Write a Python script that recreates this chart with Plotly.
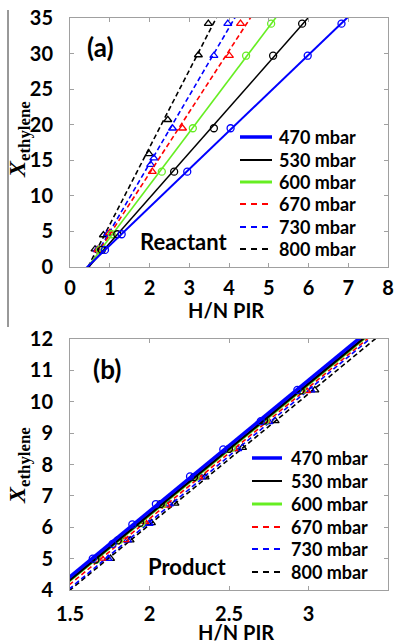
import numpy as np
import plotly.graph_objects as go

pressures = ["470 mbar", "530 mbar", "600 mbar", "670 mbar", "730 mbar", "800 mbar"]
x_title = "H/N PIR"

# Panel (a): reactant
a_x_470 = [0.88, 1.30, 2.95, 4.04, 5.98, 6.83]
a_y_470 = [2.4, 4.6, 13.4, 19.5, 29.7, 34.2]
a_x_530 = [0.80, 1.19, 2.62, 3.62, 5.11, 5.84]
a_y_530 = [2.4, 4.6, 13.4, 19.5, 29.7, 34.2]
a_x_600 = [0.75, 1.05, 2.31, 3.09, 4.43, 5.06]
a_y_600 = [2.4, 4.6, 13.4, 19.5, 29.7, 34.2]
a_x_670 = [0.70, 1.00, 2.07, 2.83, 4.01, 4.29]
a_y_670 = [2.4, 4.8, 13.4, 19.5, 29.7, 34.2]
a_x_730 = [0.68, 0.95, 2.03, 2.11, 2.58, 3.62, 3.97]
a_y_730 = [2.4, 4.7, 14.4, 15.3, 19.5, 29.7, 34.2]
a_x_800 = [0.63, 0.84, 1.99, 2.46, 3.23, 3.48]
a_y_800 = [2.5, 4.5, 15.9, 20.7, 29.8, 34.2]

# Panel (b): product
b_x_470 = [1.643, 1.768, 1.892, 2.040, 2.255, 2.464, 2.700, 2.930]
b_y_470 = [5.00, 5.47, 6.09, 6.74, 7.62, 8.48, 9.38, 10.38]
b_x_530 = [1.660, 1.800, 1.940, 2.070, 2.280, 2.500, 2.720, 2.950]
b_y_530 = [4.97, 5.58, 6.14, 6.74, 7.60, 8.50, 9.40, 10.36]
b_x_600 = [1.664, 1.810, 1.950, 2.083, 2.290, 2.517, 2.730, 2.960]
b_y_600 = [4.96, 5.59, 6.13, 6.74, 7.60, 8.53, 9.40, 10.37]
b_x_670 = [1.700, 1.846, 1.970, 2.108, 2.310, 2.530, 2.733, 2.988]
b_y_670 = [5.01, 5.60, 6.18, 6.70, 7.60, 8.50, 9.39, 10.35]
b_x_730 = [1.740, 1.862, 1.998, 2.125, 2.325, 2.555, 2.750, 3.015]
b_y_730 = [5.00, 5.59, 6.12, 6.74, 7.60, 8.50, 9.36, 10.37]
b_x_800 = [1.755, 1.878, 2.012, 2.160, 2.350, 2.585, 2.790, 3.040]
b_y_800 = [5.00, 5.59, 6.14, 6.76, 7.60, 8.54, 9.39, 10.37]

a_x = [a_x_470, a_x_530, a_x_600, a_x_670, a_x_730, a_x_800]
a_y = [a_y_470, a_y_530, a_y_600, a_y_670, a_y_730, a_y_800]
b_x = [b_x_470, b_x_530, b_x_600, b_x_670, b_x_730, b_x_800]
b_y = [b_y_470, b_y_530, b_y_600, b_y_670, b_y_730, b_y_800]

# Series styling
colors = ["#0000FF", "#000000", "#66EE22", "#FF0000", "#0000FF", "#000000"]
dashes = ["solid", "solid", "solid", "5px,3px", "5px,3px", "5px,3px"]
symbols = ["circle-open"] * 3 + ["triangle-up-open"] * 3
width_a = [2, 1.5, 1.6, 1.6, 1.6, 1.6]
width_b = [3.5, 2.5, 2, 1.6, 1.6, 1.6]
legend_width = [3.5, 2, 3, 2.2, 2.2, 2.2]
legend_dash = ["solid", "solid", "solid", "6px,5px", "6px,5px", "6px,5px"]

W, H = 401, 644
ML, MR, MT, MB = 70, 13, 18, 54
PW, PH = W - ML - MR, H - MT - MB


def px(xp):
    return (xp - ML) / PW


def py(yp):
    return (H - MB - yp) / PH


fig = go.Figure()

for i in reversed(range(6)):
    # (a) least-squares line through each pressure series
    m, c = np.polyfit(a_x[i], a_y[i], 1)
    yy = np.array([-2.0, 37.0])
    fig.add_trace(go.Scatter(
        x=(yy - c) / m, y=yy, mode="lines", xaxis="x", yaxis="y",
        line=dict(color=colors[i], width=width_a[i], dash=dashes[i]),
        showlegend=False, hoverinfo="skip"))
    fig.add_trace(go.Scatter(
        x=a_x[i], y=a_y[i], mode="markers", xaxis="x", yaxis="y",
        marker=dict(symbol=symbols[i], size=7, color=colors[i],
                    line=dict(width=1.3, color=colors[i])),
        showlegend=False, name=pressures[i]))

    # (b)
    m, c = np.polyfit(b_x[i], b_y[i], 1)
    xx = np.array([1.3, 3.7])
    fig.add_trace(go.Scatter(
        x=xx, y=m * xx + c, mode="lines", xaxis="x2", yaxis="y2",
        line=dict(color=colors[i], width=width_b[i], dash=dashes[i]),
        showlegend=False, hoverinfo="skip"))
    fig.add_trace(go.Scatter(
        x=b_x[i], y=b_y[i], mode="markers", xaxis="x2", yaxis="y2",
        marker=dict(symbol=symbols[i], size=7, color=colors[i],
                    line=dict(width=1.3, color=colors[i])),
        showlegend=False, name=pressures[i]))

bold = dict(family="Lato", color="black", weight="bold")
axis_common = dict(
    showline=True, linecolor="#a0a0a0", linewidth=1, mirror="ticks",
    ticks="inside", ticklen=4, tickcolor="#a0a0a0", tickwidth=1,
    showgrid=False, zeroline=False, automargin=False,
    tickfont=dict(size=20, **bold),
)

top_a, bot_a = 18, 267
top_b, bot_b = 339, 590

fig.update_layout(
    width=W, height=H,
    margin=dict(l=ML, r=MR, t=MT, b=MB),
    paper_bgcolor="white", plot_bgcolor="white",
    showlegend=False,
    xaxis=dict(domain=[0, 1], anchor="y", range=[0, 8], dtick=1,
               ticklabelstandoff=3, **axis_common),
    yaxis=dict(domain=[py(bot_a), py(top_a)], anchor="x", range=[0, 35], dtick=5,
               ticklabelstandoff=12, **axis_common),
    xaxis2=dict(domain=[0, 1], anchor="y2", range=[1.5, 3.5], dtick=0.5,
                ticklabelstandoff=6, **axis_common),
    yaxis2=dict(domain=[py(bot_b), py(top_b)], anchor="x2", range=[4, 12], dtick=1,
                ticklabelstandoff=12, **axis_common),
)

annotations = []
shapes = []

# Panel labels, captions and x-axis titles
for txt, xc, yc, size, anchor in [
    ("(a)", 100, 47, 26, "center"),
    ("(b)", 107, 369, 26, "center"),
    ("Reactant", 139, 242, 22, "left"),
    ("Product", 147, 566, 22, "left"),
    (x_title, 226, 310, 20, "center"),
    (x_title, 236, 632, 20, "center"),
]:
    annotations.append(dict(
        text=txt, x=px(xc), y=py(yc), xref="paper", yref="paper",
        xanchor=anchor, yanchor="middle", showarrow=False, borderpad=0,
        font=dict(size=size, **bold)))

# Y-axis titles
for yc in (140, 466):
    annotations.append(dict(
        text="<i>X</i><sub>ethylene</sub>", x=px(19), y=py(yc),
        xref="paper", yref="paper", xanchor="center", yanchor="middle",
        textangle=-90, showarrow=False,
        font=dict(family="Liberation Serif", size=24, color="black", weight="bold")))

# Legends drawn as line samples with labels
for rows, x0, x1, xt in [
    ([137, 160, 182, 204, 227, 249], 240, 272, 277),
    ([458, 481, 504, 527, 549, 572], 252, 282, 289),
]:
    for i, yr in enumerate(rows):
        shapes.append(dict(
            type="line", xref="paper", yref="paper",
            x0=px(x0), x1=px(x1), y0=py(yr), y1=py(yr),
            line=dict(color=colors[i], width=legend_width[i], dash=legend_dash[i])))
        annotations.append(dict(
            text=pressures[i], x=px(xt), y=py(yr), xref="paper", yref="paper",
            xanchor="left", yanchor="middle", showarrow=False,
            font=dict(size=18, **bold)))

# Left frame rule
shapes.append(dict(type="line", xref="paper", yref="paper",
                   x0=px(8), x1=px(8), y0=py(10), y1=py(327),
                   line=dict(color="#333333", width=1)))

fig.update_layout(annotations=annotations, shapes=shapes)

fig.write_html("out.html")
